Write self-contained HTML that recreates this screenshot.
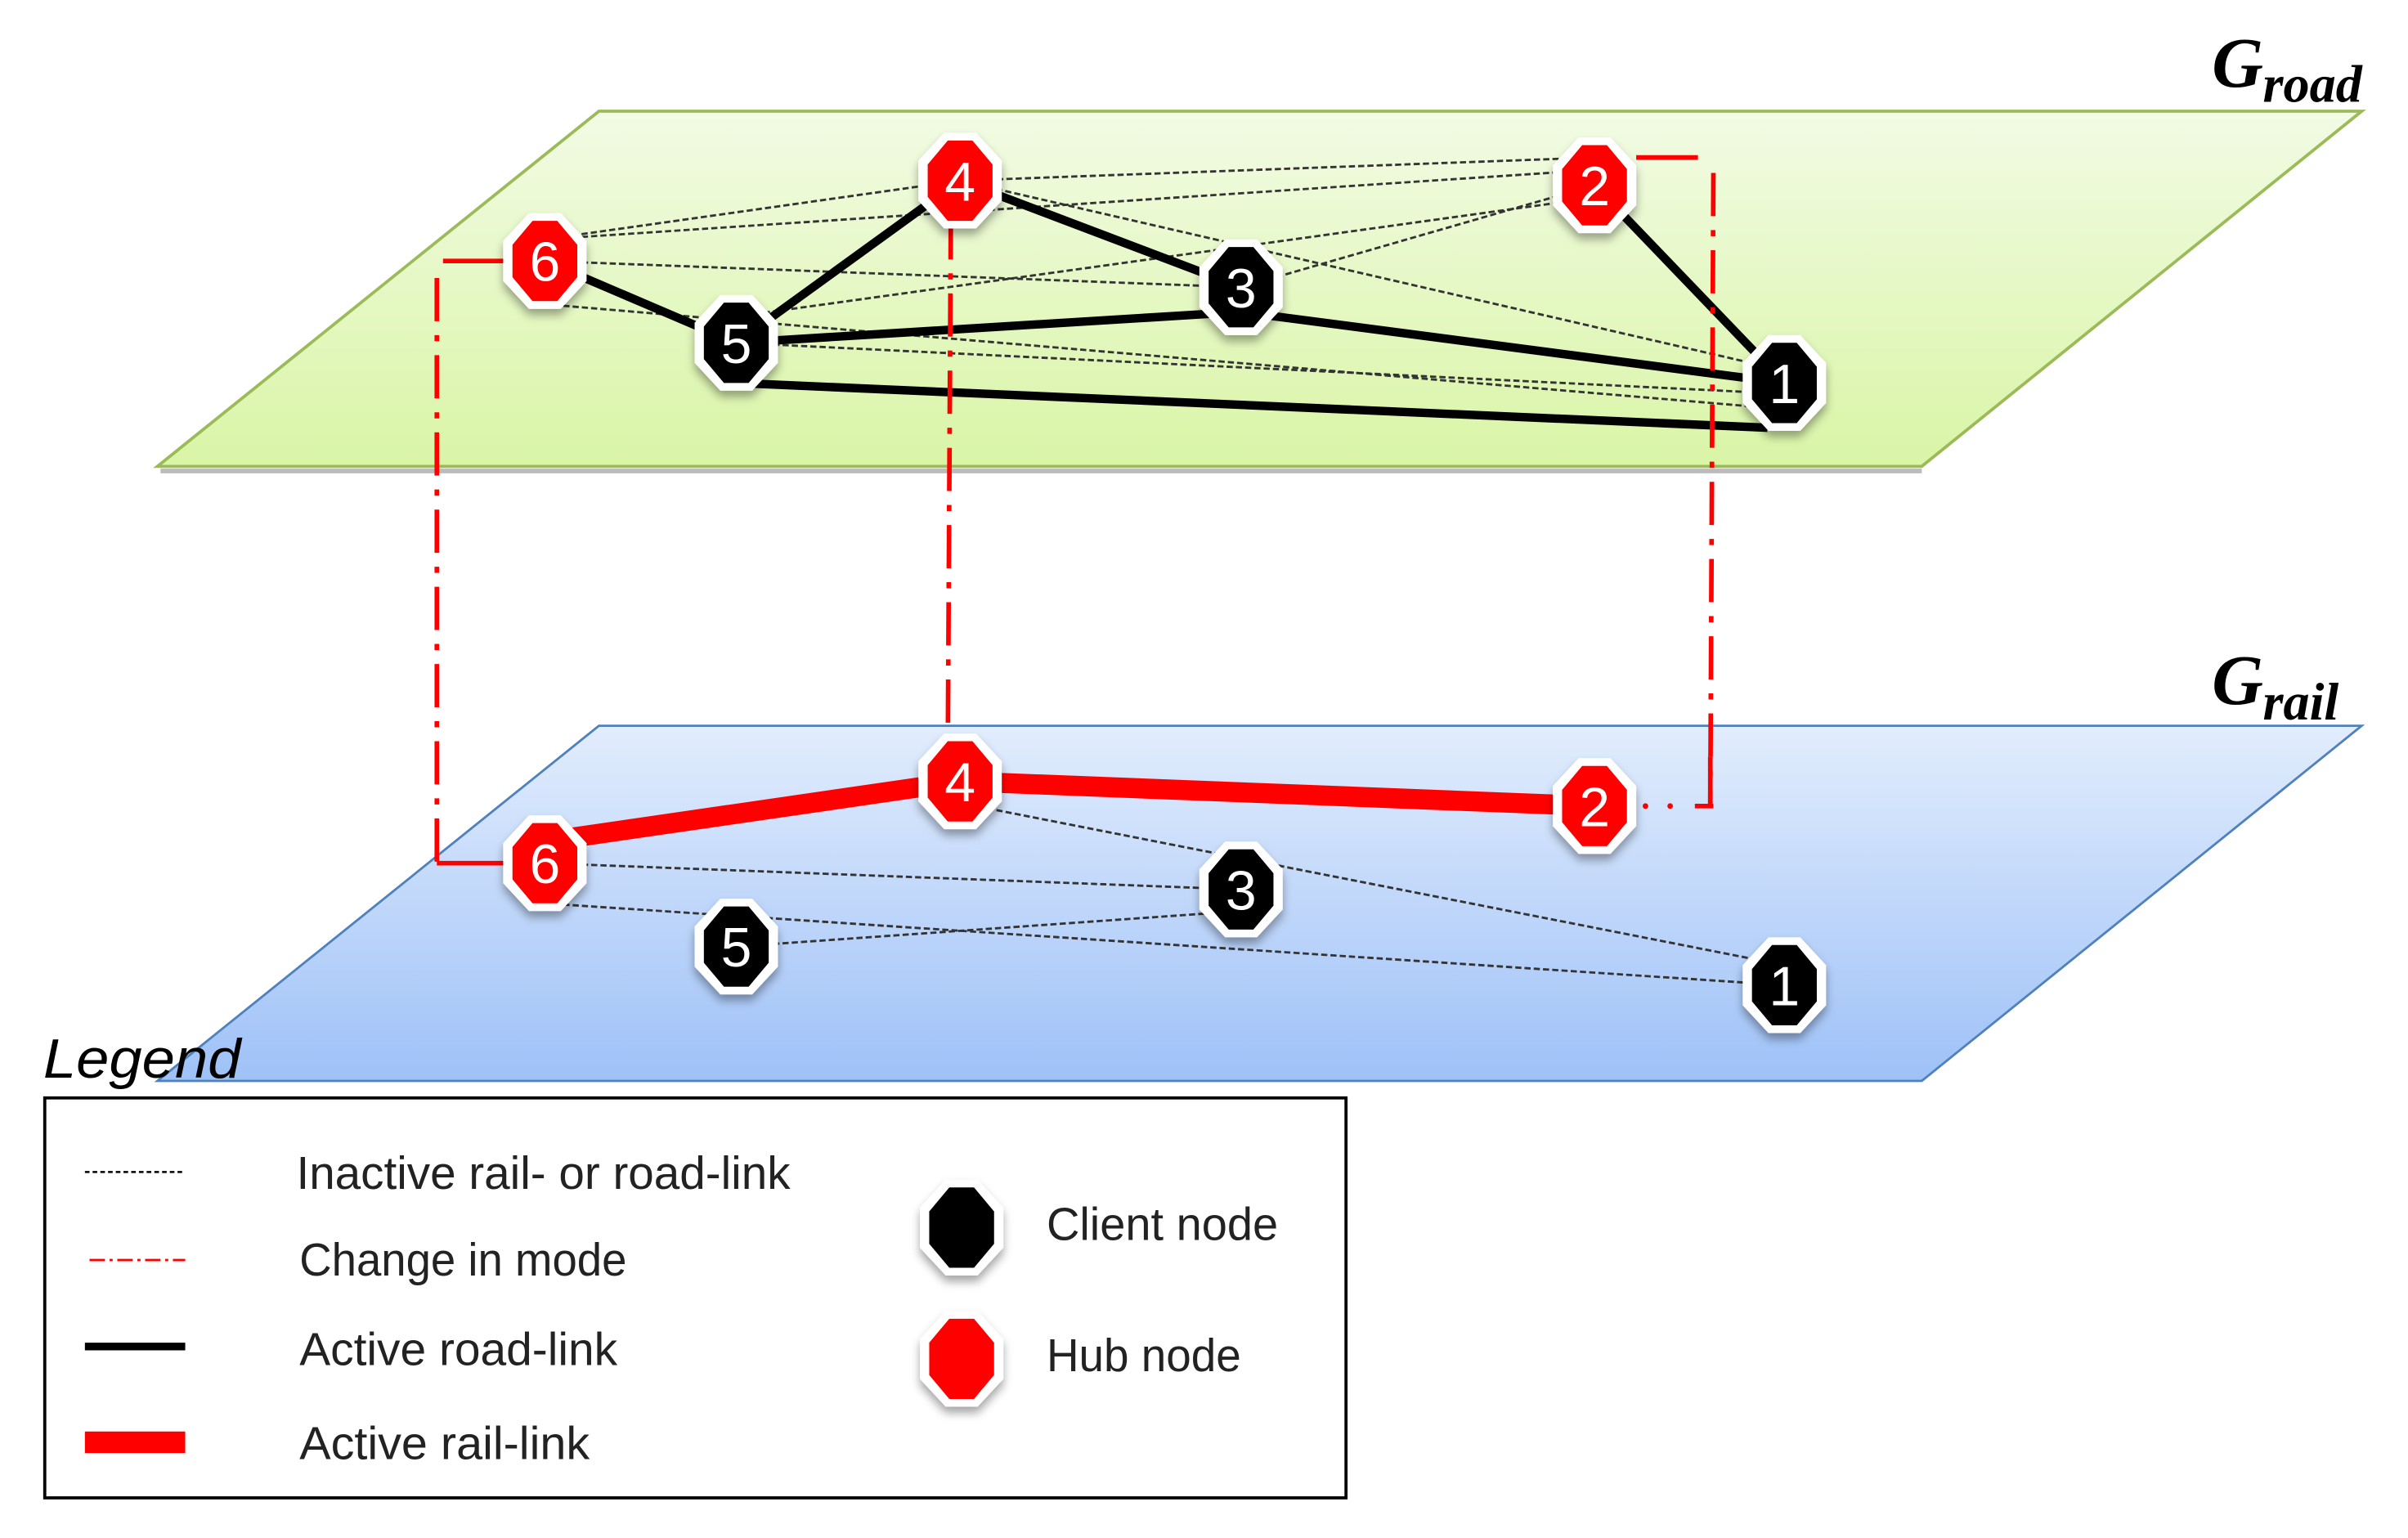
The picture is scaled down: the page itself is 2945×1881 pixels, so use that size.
<!DOCTYPE html>
<html><head><meta charset="utf-8"><style>
html,body{margin:0;padding:0;background:#fff;}
svg{display:block;}
</style></head><body>
<svg width="2945" height="1881" viewBox="0 0 1560 996" preserveAspectRatio="none" xmlns="http://www.w3.org/2000/svg">
<defs>
<linearGradient id="gg" x1="0" y1="0" x2="0" y2="1"><stop offset="0" stop-color="#f2fbe4"/><stop offset="1" stop-color="#d9f5a6"/></linearGradient>
<linearGradient id="bg" x1="0" y1="0" x2="0" y2="1"><stop offset="0" stop-color="#e2edfd"/><stop offset="1" stop-color="#9ec1f7"/></linearGradient>
<filter id="sh" x="-30%" y="-30%" width="160%" height="170%"><feDropShadow dx="0" dy="4" stdDeviation="3" flood-color="#000" flood-opacity="0.35"/></filter>
<g id="cli"><polygon filter="url(#sh)" fill="#fff" points="-10.3,-31 10.3,-31 27,-13 27,13 10.3,31 -10.3,31 -27,13 -27,-13"/><polygon fill="#000" points="-8,-26 8,-26 21,-10.5 21,10.5 8,26 -8,26 -21,10.5 -21,-10.5"/></g>
<g id="hub"><polygon filter="url(#sh)" fill="#fff" points="-10.3,-31 10.3,-31 27,-13 27,13 10.3,31 -10.3,31 -27,13 -27,-13"/><polygon fill="#f00" points="-8,-26 8,-26 21,-10.5 21,10.5 8,26 -8,26 -21,10.5 -21,-10.5"/></g>
</defs>

<polygon points="388,72 1530,72 1245,302 102,302" fill="url(#gg)" stroke="#9bbb59" stroke-width="2"/>
<line x1="104" y1="305" x2="1245" y2="305" stroke="#bbb" stroke-width="3"/>
<polygon points="388,470 1530,470 1245,700 102,700" fill="url(#bg)" stroke="#4f81bd" stroke-width="1.5"/>

<text x="1433" y="56" font-family="Liberation Serif, serif" font-style="italic" font-weight="bold" font-size="46">G</text>
<text x="1466" y="66" font-family="Liberation Serif, serif" font-style="italic" font-weight="bold" font-size="34">road</text>
<text x="1433" y="456" font-family="Liberation Serif, serif" font-style="italic" font-weight="bold" font-size="46">G</text>
<text x="1466" y="466" font-family="Liberation Serif, serif" font-style="italic" font-weight="bold" font-size="34">rail</text>

<g stroke="#333" stroke-width="1.5" stroke-dasharray="4 2" fill="none">
<line x1="353" y1="155" x2="622" y2="117"/>
<line x1="353" y1="155" x2="1033" y2="110"/>
<line x1="622" y1="117" x2="1033" y2="102"/>
<line x1="622" y1="117" x2="1156" y2="240"/>
<line x1="353" y1="169" x2="804" y2="186"/>
<line x1="353" y1="197" x2="1156" y2="265"/>
<line x1="477" y1="205" x2="1033" y2="128"/>
<line x1="804" y1="186" x2="1033" y2="120"/>
<line x1="477" y1="222" x2="1156" y2="255"/>
</g>
<g stroke="#000" stroke-width="5.5" fill="none">
<line x1="353" y1="169" x2="477" y2="222"/>
<line x1="477" y1="222" x2="622" y2="117"/>
<line x1="622" y1="117" x2="804" y2="186"/>
<line x1="477" y1="222" x2="804" y2="202"/>
<line x1="804" y1="202" x2="1156" y2="248"/>
<line x1="477" y1="248" x2="1145" y2="277"/>
<line x1="1033" y1="120" x2="1156" y2="248"/>
</g>

<g stroke="#333" stroke-width="1.5" stroke-dasharray="4 2" fill="none">
<line x1="353" y1="559" x2="804" y2="576"/>
<line x1="353" y1="585" x2="1156" y2="638"/>
<line x1="477" y1="613" x2="804" y2="590"/>
<line x1="622" y1="520" x2="1156" y2="625"/>
</g>
<g stroke="#f00" stroke-width="13" fill="none">
<line x1="353" y1="545" x2="622" y2="506"/>
<line x1="622" y1="506" x2="1033" y2="522"/>
</g>

<g stroke="#f00" stroke-width="3" fill="none" stroke-dasharray="28 9 4 9">
<polyline points="283,180 283,559"/>
<polyline points="616,140 614,490"/>
<polyline points="1110,112 1108,522"/>
</g>
<line x1="287" y1="169" x2="330" y2="169" stroke="#f00" stroke-width="3"/>
<line x1="283" y1="559" x2="330" y2="559" stroke="#f00" stroke-width="3"/>
<line x1="1060" y1="102" x2="1100" y2="102" stroke="#f00" stroke-width="3"/>
<line x1="1098" y1="522" x2="1110" y2="522" stroke="#f00" stroke-width="3"/>
<line x1="1108" y1="490" x2="1108" y2="522" stroke="#f00" stroke-width="3"/>
<circle cx="1066" cy="522" r="1.8" fill="#f00"/><circle cx="1082" cy="522" r="1.8" fill="#f00"/>

<g font-family="Liberation Sans, sans-serif" font-size="36" fill="#fff" text-anchor="middle">
<use href="#hub" x="622" y="117"/><text x="622" y="130">4</text>
<use href="#hub" x="1033" y="120"/><text x="1033" y="133">2</text>
<use href="#hub" x="353" y="169"/><text x="353" y="182">6</text>
<use href="#cli" x="804" y="186"/><text x="804" y="199">3</text>
<use href="#cli" x="477" y="222"/><text x="477" y="235">5</text>
<use href="#cli" x="1156" y="248"/><text x="1156" y="261">1</text>

<use href="#hub" x="622" y="506"/><text x="622" y="519">4</text>
<use href="#hub" x="1033" y="522"/><text x="1033" y="535">2</text>
<use href="#hub" x="353" y="559"/><text x="353" y="572">6</text>
<use href="#cli" x="804" y="576"/><text x="804" y="589">3</text>
<use href="#cli" x="477" y="613"/><text x="477" y="626">5</text>
<use href="#cli" x="1156" y="638"/><text x="1156" y="651">1</text>
</g>

<text x="28" y="698" font-family="Liberation Sans, sans-serif" font-style="italic" font-size="36" textLength="128" lengthAdjust="spacingAndGlyphs">Legend</text>
<rect x="29" y="711" width="843" height="259" fill="#fff" stroke="#000" stroke-width="2"/>
<line x1="55" y1="759" x2="120" y2="759" stroke="#000" stroke-width="1.3" stroke-dasharray="3 2"/>
<line x1="58" y1="816" x2="120" y2="816" stroke="#f00" stroke-width="1.5" stroke-dasharray="10 3 2 3"/>
<line x1="55" y1="872" x2="120" y2="872" stroke="#000" stroke-width="5"/>
<line x1="55" y1="934" x2="120" y2="934" stroke="#f00" stroke-width="14"/>
<g font-family="Liberation Sans, sans-serif" font-size="30" fill="#222">
<text x="192" y="770" textLength="320" lengthAdjust="spacingAndGlyphs">Inactive rail- or road-link</text>
<text x="194" y="826" textLength="212" lengthAdjust="spacingAndGlyphs">Change in mode</text>
<text x="194" y="884" textLength="206" lengthAdjust="spacingAndGlyphs">Active road-link</text>
<text x="194" y="945" textLength="188" lengthAdjust="spacingAndGlyphs">Active rail-link</text>
<text x="678" y="803" textLength="150" lengthAdjust="spacingAndGlyphs">Client node</text>
<text x="678" y="888" textLength="126" lengthAdjust="spacingAndGlyphs">Hub node</text>
</g>
<use href="#cli" x="623" y="795"/>
<use href="#hub" x="623" y="880"/>
</svg>
</body></html>
